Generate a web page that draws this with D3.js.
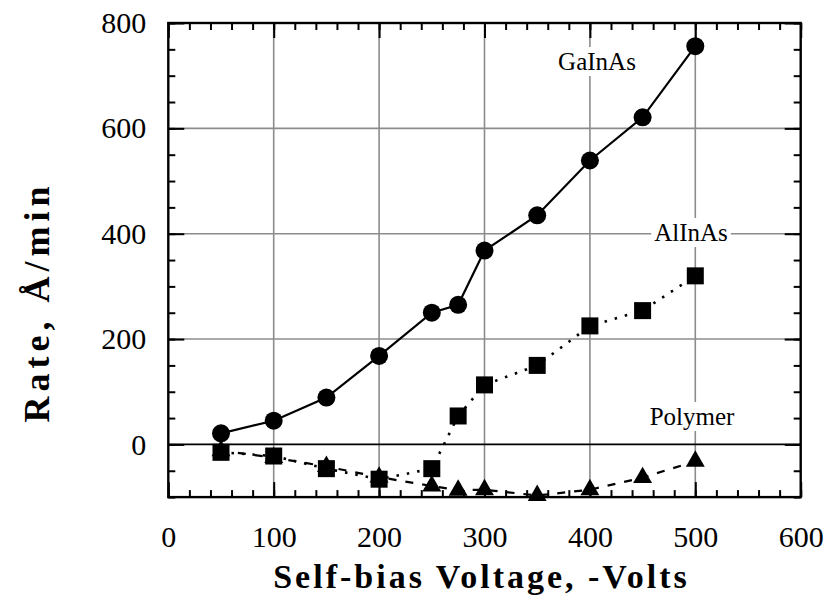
<!DOCTYPE html>
<html>
<head>
<meta charset="utf-8">
<script src="https://cdn.jsdelivr.net/npm/d3@7"></script>
<style>
  body { margin: 0; background: #fff; }
  text { font-family: "Liberation Serif", "Times New Roman", serif; }
</style>
</head>
<body>
<svg id="chart"></svg>
<script>
// data
var voltages = [50, 100, 150, 200, 250, 275, 300, 350, 400, 450, 500];
var gainasRate = [21, 45, 89, 168, 250, 265, 368, 435, 539, 621, 756];
var alinasRate = [-15, -22, -46, -66, -46, 54, 113, 150, 225, 254, 320];
var polymerRate = [-12, -25, -42, -62, -79, -87, -86, -97, -86, -63, -32];

var xMajorTicks = [0, 100, 200, 300, 400, 500, 600];
var yMajorTicks = [0, 200, 400, 600, 800];
var xGridValues = [100, 200, 300, 400, 500];
var yGridValues = [200, 400, 600];

var seriesLabels = [
    { name: "GaInAs", x: 597, y: 70 },
    { name: "AlInAs", x: 691, y: 241 },
    { name: "Polymer", x: 692, y: 425 }
];

var size = [827, 595];
var margin = { top: 23, right: 26.3, bottom: 97.9, left: 168.3 };
var plotW = size[0] - margin.left - margin.right;
var plotH = size[1] - margin.top - margin.bottom;

var svg = d3.select("#chart").attr("width", size[0]).attr("height", size[1]);

var x = d3.scaleLinear().domain([0, 600]).range([0, plotW]);
var y = d3.scaleLinear().domain([-100, 800]).range([plotH, 0]);

var g = svg.append("g")
    .attr("transform", "translate(" + margin.left + "," + margin.top + ")");

function drawGrid() {
    g.append("g").attr("class", "grid")
        .selectAll("line.v").data(xGridValues).enter().append("line")
        .attr("x1", function(d) { return x(d); })
        .attr("x2", function(d) { return x(d); })
        .attr("y1", 0).attr("y2", plotH)
        .style("stroke", "#8c8c8c").style("stroke-width", 1.6);

    g.append("g").attr("class", "grid")
        .selectAll("line.h").data(yGridValues).enter().append("line")
        .attr("y1", function(d) { return y(d); })
        .attr("y2", function(d) { return y(d); })
        .attr("x1", 0).attr("x2", plotW)
        .style("stroke", "#8c8c8c").style("stroke-width", 1.6);

    // zero line
    g.append("line")
        .attr("x1", 0).attr("x2", plotW)
        .attr("y1", y(0)).attr("y2", y(0))
        .style("stroke", "#000").style("stroke-width", 1.6);
}

function drawLabels() {
    seriesLabels.forEach(function(l) {
        var t = g.append("text")
            .attr("x", l.x - margin.left)
            .attr("y", l.y - margin.top)
            .attr("text-anchor", "middle")
            .style("font-size", "25px")
            .text(l.name);
        var bb = t.node().getBBox();
        g.insert("rect", function() { return t.node(); })
            .attr("x", bb.x - 3).attr("y", bb.y - 1)
            .attr("width", bb.width + 6).attr("height", bb.height + 2)
            .style("fill", "#fff");
    });
}

function drawAxes() {
    var xMinor = d3.range(0, 601, 20);
    var yMinor = d3.range(-100, 801, 50);

    function styleAxis(sel) {
        sel.attr("font-family", "Liberation Serif");
        sel.select(".domain").remove();
        sel.selectAll("line").style("stroke", "#000").style("stroke-width", 2);
        sel.selectAll("text").style("font-size", "30px").style("fill", "#000");
    }

    // bottom
    g.append("g").attr("transform", "translate(0," + plotH + ")")
        .call(d3.axisBottom(x).tickValues(xMinor).tickSize(-7).tickFormat(""))
        .call(styleAxis);
    g.append("g").attr("transform", "translate(0," + plotH + ")")
        .call(d3.axisBottom(x).tickValues(xMajorTicks).tickSize(-15).tickPadding(29).tickFormat(d3.format("d")))
        .call(styleAxis);
    // top
    g.append("g")
        .call(d3.axisTop(x).tickValues(xMinor).tickSize(-7).tickFormat(""))
        .call(styleAxis);
    g.append("g")
        .call(d3.axisTop(x).tickValues(xMajorTicks).tickSize(-15).tickFormat(""))
        .call(styleAxis);
    // left
    g.append("g")
        .call(d3.axisLeft(y).tickValues(yMinor).tickSize(-7).tickFormat(""))
        .call(styleAxis);
    g.append("g")
        .call(d3.axisLeft(y).tickValues(yMajorTicks).tickSize(-16).tickPadding(22).tickFormat(d3.format("d")))
        .call(styleAxis);
    // right
    g.append("g").attr("transform", "translate(" + plotW + ",0)")
        .call(d3.axisRight(y).tickValues(yMinor).tickSize(-7).tickFormat(""))
        .call(styleAxis);
    g.append("g").attr("transform", "translate(" + plotW + ",0)")
        .call(d3.axisRight(y).tickValues(yMajorTicks).tickSize(-16).tickFormat(""))
        .call(styleAxis);

    // frame
    g.append("rect")
        .attr("width", plotW).attr("height", plotH)
        .style("fill", "none").style("stroke", "#000").style("stroke-width", 2.4);

    svg.append("text")
        .attr("x", margin.left + plotW / 2 - 3)
        .attr("y", 588)
        .attr("text-anchor", "middle")
        .style("font-size", "34px").style("font-weight", "bold")
        .style("letter-spacing", "3px")
        .text("Self-bias Voltage, -Volts");

    svg.append("text")
        .attr("transform", "translate(49,302) rotate(-90)")
        .attr("text-anchor", "middle")
        .style("font-size", "36px").style("font-weight", "bold")
        .style("letter-spacing", "5px")
        .text("Rate, Å/min");
}

function drawSeries() {
    var line = d3.line()
        .x(function(d) { return x(d[0]); })
        .y(function(d) { return y(d[1]); });

    var gainas = d3.zip(voltages, gainasRate);
    var alinas = d3.zip(voltages, alinasRate);
    var polymer = d3.zip(voltages, polymerRate);

    g.append("path").datum(polymer).attr("d", line)
        .style("fill", "none").style("stroke", "#000").style("stroke-width", 2.2)
        .style("stroke-dasharray", "8,9");
    g.append("path").datum(alinas).attr("d", line)
        .style("fill", "none").style("stroke", "#000").style("stroke-width", 2.6)
        .style("stroke-dasharray", "2.5,8");
    g.append("path").datum(gainas).attr("d", line)
        .style("fill", "none").style("stroke", "#000").style("stroke-width", 2.2);

    var tri = d3.symbol().type(d3.symbolTriangle).size(155);
    g.append("g").selectAll("path").data(polymer).enter().append("path")
        .attr("d", tri)
        .attr("transform", function(d) { return "translate(" + x(d[0]) + "," + y(d[1]) + ")"; })
        .style("fill", "#000");

    g.append("g").selectAll("rect").data(alinas).enter().append("rect")
        .attr("x", function(d) { return x(d[0]) - 8.5; })
        .attr("y", function(d) { return y(d[1]) - 8.5; })
        .attr("width", 17).attr("height", 17)
        .style("fill", "#000");

    g.append("g").selectAll("circle").data(gainas).enter().append("circle")
        .attr("cx", function(d) { return x(d[0]); })
        .attr("cy", function(d) { return y(d[1]); })
        .attr("r", 9)
        .style("fill", "#000");
}

drawGrid();
drawLabels();
drawSeries();
drawAxes();
</script>
</body>
</html>
